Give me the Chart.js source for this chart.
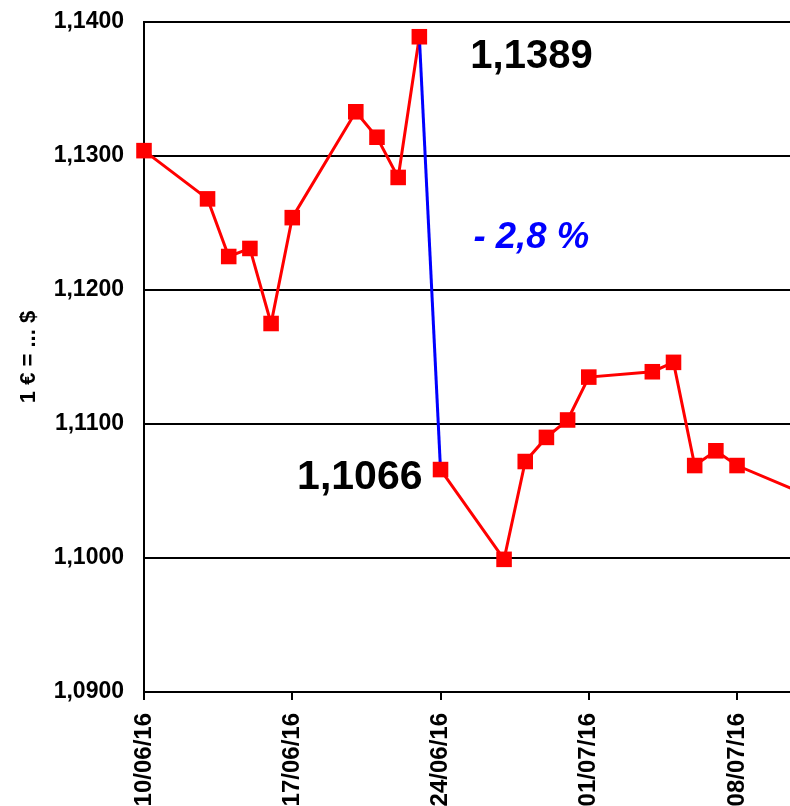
<!DOCTYPE html>
<html>
<head>
<meta charset="utf-8">
<script src="https://cdn.jsdelivr.net/npm/chart.js@4.4.1/dist/chart.umd.min.js"></script>
<style>
  html, body { margin: 0; padding: 0; background: #fff; overflow: hidden; }
  #wrap { width: 790px; height: 806px; }
</style>
</head>
<body>
<div id="wrap"><canvas id="fxChart"></canvas></div>
<script>
// EUR/USD fixing, June - July 2016
const dates = ['10/06/16', '13/06/16', '14/06/16', '15/06/16', '16/06/16', '17/06/16',
               '20/06/16', '21/06/16', '22/06/16', '23/06/16', '24/06/16',
               '27/06/16', '28/06/16', '29/06/16', '30/06/16', '01/07/16',
               '04/07/16', '05/07/16', '06/07/16', '07/07/16', '08/07/16', '11/07/16'];
const rates = [1.1304, 1.1268, 1.1225, 1.1231, 1.1175, 1.1254,
               1.1333, 1.1314, 1.1284, 1.1389, 1.1066,
               1.0999, 1.1072, 1.1090, 1.1103, 1.1135,
               1.1139, 1.1146, 1.1069, 1.1080, 1.1069, 1.1049];
const yTicks = [1.09, 1.10, 1.11, 1.12, 1.13, 1.14];
const xTickDates = ['10/06/16', '17/06/16', '24/06/16', '01/07/16', '08/07/16'];
const axisTitle = '1 € = ... $';

const FONT = "'Liberation Sans', Arial, sans-serif";

function parseDate(s) {
    const [d, m, y] = s.split('/').map(Number);
    return Date.UTC(2000 + y, m - 1, d);
}
const base = parseDate(dates[0]);
const dayOf = s => (parseDate(s) - base) / 86400000;
const dayLabel = {};
xTickDates.forEach(s => { dayLabel[dayOf(s)] = s; });

const fmt = v => v.toFixed(4).replace('.', ',');

const points = dates.map((d, i) => ({ x: dayOf(d), y: rates[i] }));
const peakIdx = rates.indexOf(Math.max(...rates.slice(0, 11)));
const dropIdx = peakIdx + 1;

// Annotation labels around the drop
const dropLabels = {
    id: 'dropLabels',
    afterDatasetsDraw(chart) {
        const { ctx, scales: { x, y } } = chart;
        const px = x.getPixelForValue(points[peakIdx].x);
        const py = y.getPixelForValue(rates[peakIdx]);
        const dx = x.getPixelForValue(points[dropIdx].x);
        const dy = y.getPixelForValue(rates[dropIdx]);
        const pct = (rates[dropIdx] - rates[peakIdx]) / rates[peakIdx] * 100;
        ctx.save();
        ctx.textBaseline = 'middle';
        ctx.fillStyle = '#000';
        ctx.font = 'bold 40px ' + FONT;
        ctx.textAlign = 'left';
        ctx.fillText(fmt(rates[peakIdx]), px + 51, py + 20);
        ctx.font = 'bold 41px ' + FONT;
        ctx.textAlign = 'right';
        ctx.fillText(fmt(rates[dropIdx]), dx - 18, dy + 8);
        ctx.fillStyle = '#0000ff';
        ctx.font = 'italic bold 36.5px ' + FONT;
        ctx.textAlign = 'center';
        const midY = y.getPixelForValue((rates[peakIdx] + rates[dropIdx]) / 2);
        ctx.fillText('- ' + Math.abs(pct).toFixed(1).replace('.', ',') + ' %', px + 112, midY - 15);
        ctx.restore();
    }
};

new Chart(document.getElementById('fxChart'), {
    type: 'line',
    data: {
        datasets: [{
            data: points,
            borderColor: '#ff0000',
            borderWidth: 3,
            backgroundColor: '#ff0000',
            pointStyle: 'rect',
            pointRadius: 11,
            pointBorderWidth: 0,
            pointBackgroundColor: '#ff0000',
            tension: 0,
            clip: false,
            segment: {
                borderColor: c => c.p0DataIndex === peakIdx ? '#0000ff' : '#ff0000'
            }
        }]
    },
    options: {
        responsive: true,
        maintainAspectRatio: false,
        animation: false,
        layout: { autoPadding: false, padding: { top: 22, right: 0, left: 0, bottom: 0 } },
        plugins: {
            legend: { display: false },
            tooltip: { enabled: false }
        },
        scales: {
            x: {
                type: 'linear',
                min: 0,
                max: 30.5,
                afterBuildTicks: s => { s.ticks = s.ticks.filter(t => dayLabel[t.value] !== undefined); },
                afterFit: s => { s.height = 114; s.paddingLeft = 0; s.paddingRight = 0; },
                border: { color: '#000', width: 2 },
                grid: { drawOnChartArea: false, drawTicks: true, tickLength: 8, color: '#000', lineWidth: 2 },
                ticks: {
                    stepSize: 7,
                    autoSkip: false,
                    minRotation: 90,
                    maxRotation: 90,
                    padding: 13,
                    color: '#000',
                    font: { family: FONT, size: 24, weight: 'bold' },
                    callback: v => dayLabel[v] || ''
                }
            },
            y: {
                min: 1.09,
                max: 1.14,
                afterBuildTicks: s => { s.ticks = yTicks.map(v => ({ value: v })); },
                afterFit: s => { s.width = 144; s.paddingTop = 0; s.paddingBottom = 0; },
                border: { color: '#000', width: 2 },
                grid: { drawTicks: false, color: '#000', lineWidth: 2 },
                ticks: {
                    padding: 20,
                    color: '#000',
                    font: { family: FONT, size: 23, weight: 'bold' },
                    callback: v => fmt(v)
                },
                title: {
                    display: true,
                    text: axisTitle,
                    color: '#000',
                    padding: { top: 16, bottom: 0 },
                    font: { family: FONT, size: 22, weight: 'bold' }
                }
            }
        }
    },
    plugins: [dropLabels]
});
</script>
</body>
</html>
